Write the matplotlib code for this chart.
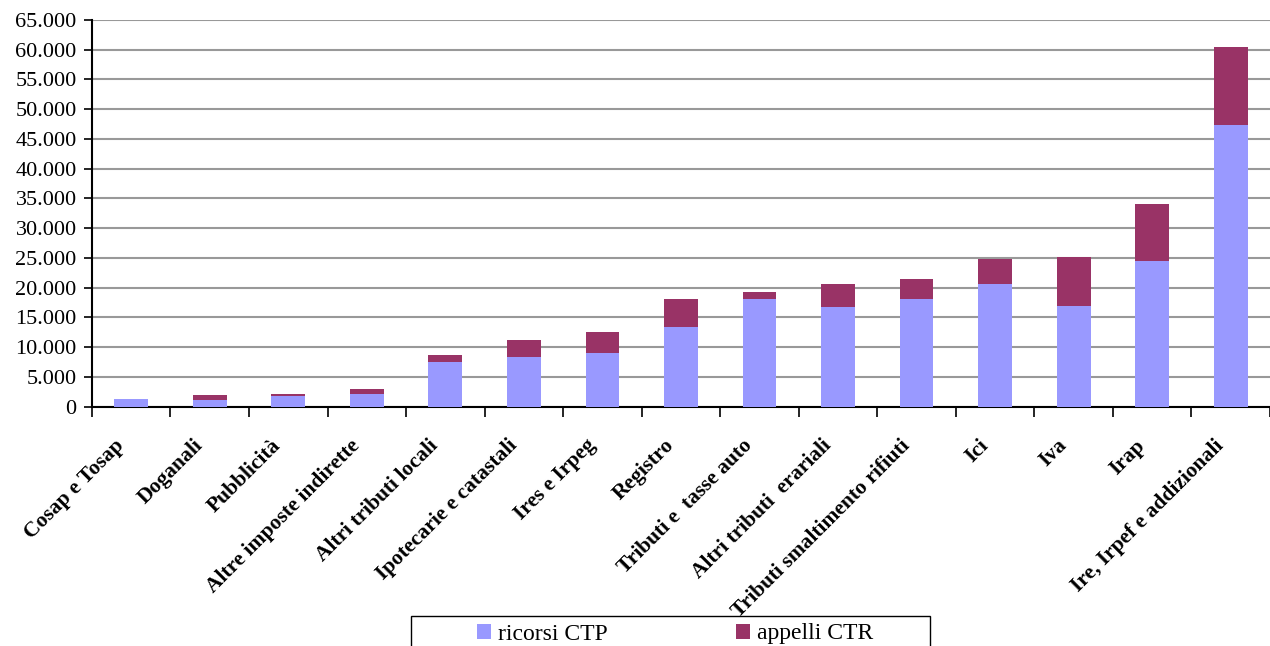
import matplotlib
matplotlib.use("Agg")
import matplotlib.pyplot as plt
import matplotlib.transforms as mtransforms
from matplotlib.patches import Rectangle
from matplotlib.ticker import FuncFormatter
import numpy as np

categorie = [
    "Cosap e Tosap", "Doganali", "Pubblicità", "Altre imposte indirette",
    "Altri tributi locali", "Ipotecarie e catastali", "Ires e Irpeg",
    "Registro", "Tributi e  tasse auto", "Altri tributi  erariali",
    "Tributi smaltimento rifiuti", "Ici", "Iva", "Irap",
    "Ire, Irpef e addizionali",
]
ricorsi_ctp = [1330, 1170, 1830, 2170, 7500, 8360, 9040,
               13430, 18160, 16810, 18160, 20640, 16910, 24410, 47360]
appelli_ctr = [0, 830, 340, 830, 1170, 2870, 3540,
               4730, 1180, 3880, 3210, 4220, 8290, 9590, 13030]

COL_CTP = "#9999FF"
COL_CTR = "#993366"

plt.rcParams["font.family"] = ["Liberation Serif", "DejaVu Serif"]

W, H = 1270, 646
fig = plt.figure(figsize=(W / 100, H / 100), dpi=100)
ax = fig.add_axes([0.0724, 0.3707, 0.9276, 0.5983])

x = np.arange(len(categorie))
b1 = ax.bar(x, ricorsi_ctp, width=0.43, color=COL_CTP, label="ricorsi CTP", zorder=3)
b2 = ax.bar(x, appelli_ctr, width=0.43, bottom=ricorsi_ctp, color=COL_CTR,
            label="appelli CTR", zorder=3)

ax.set_xlim(-0.5, len(categorie) - 0.5)
ax.set_ylim(0, 65000)
ax.set_yticks(np.arange(0, 65001, 5000))
ax.yaxis.set_major_formatter(FuncFormatter(lambda v, p: f"{int(v):,}".replace(",", ".")))
ax.yaxis.grid(True, color="#999999", linewidth=1.5, zorder=0)
ax.tick_params(axis="y", labelsize=16, length=6, width=1.2, direction="out", pad=5)

# tacche sui confini delle categorie, etichette al centro
ax.set_xticks(np.arange(-0.5, len(categorie), 1.0))
ax.set_xticklabels([])
ax.set_xticks(x, minor=True)
ax.set_xticklabels(categorie, minor=True, rotation=45, ha="right", va="center",
                   rotation_mode="anchor", fontsize=15.5, fontweight="bold")
ax.tick_params(axis="x", which="major", length=7, width=1.2, direction="out")
ax.tick_params(axis="x", which="minor", length=0, pad=26)
spost = mtransforms.ScaledTranslation(-10 / 100, 0, fig.dpi_scale_trans)
for lab in ax.get_xticklabels(minor=True):
    lab.set_transform(lab.get_transform() + spost)

for s in ["top", "right"]:
    ax.spines[s].set_visible(False)
ax.spines["left"].set_linewidth(1.5)
ax.spines["bottom"].set_linewidth(1.5)

# riquadro della legenda (tagliato dal bordo inferiore come nell'originale)
fig.patches.append(Rectangle((411 / W, -0.05), (930 - 411) / W, 0.05 + 30 / H,
                             transform=fig.transFigure, fill=False,
                             edgecolor="black", linewidth=1.0))
fig.legend(handles=[b1, b2], loc="center left",
           bbox_to_anchor=(477 / W, 1 - 634 / H), ncol=2, fontsize=17,
           frameon=False, handlelength=0.6, handleheight=0.6,
           handletextpad=0.3, columnspacing=5.4, borderpad=0, borderaxespad=0)

fig.savefig("out.png", dpi=100)
